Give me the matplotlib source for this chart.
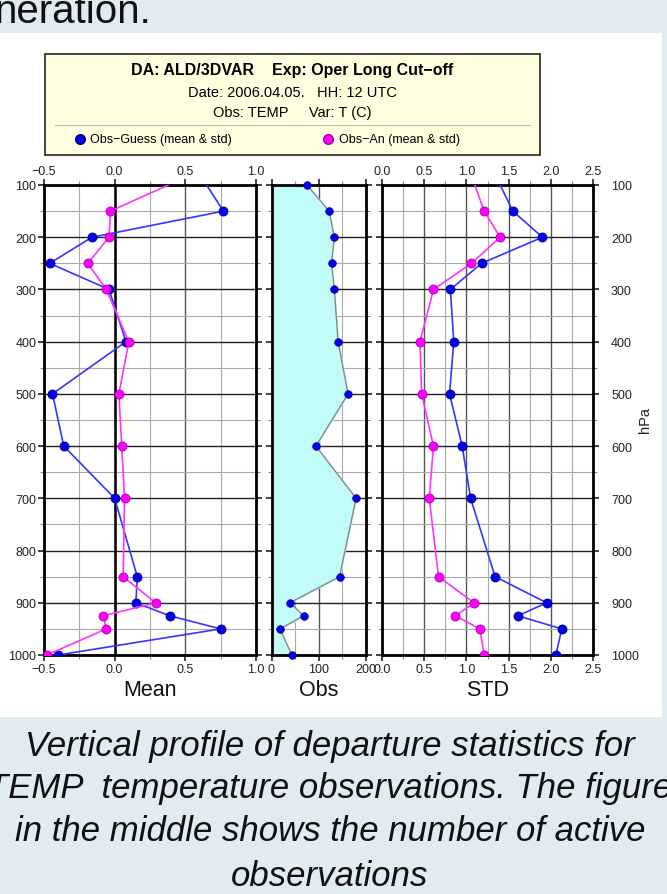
import matplotlib
matplotlib.use("Agg")
import matplotlib.pyplot as plt
from matplotlib.patches import Rectangle
from matplotlib.lines import Line2D
from matplotlib.ticker import MultipleLocator, FuncFormatter

plt.rcParams['font.family'] = ['Liberation Sans', 'DejaVu Sans']

# ---------------- data ----------------
levels = [100, 150, 200, 250, 300, 400, 500, 600, 700, 850, 900, 925, 950, 1000]
mean_guess = [0.65, 0.77, -0.16, -0.46, -0.04, 0.08, -0.44, -0.36, 0.00, 0.16, 0.15, 0.39, 0.75, -0.40]
mean_an = [0.38, -0.03, -0.04, -0.19, -0.06, 0.10, 0.03, 0.05, 0.07, 0.06, 0.29, -0.08, -0.06, -0.48]
std_guess = [1.40, 1.55, 1.90, 1.18, 0.81, 0.85, 0.80, 0.95, 1.05, 1.34, 1.95, 1.61, 2.13, 2.06]
std_an = [1.10, 1.21, 1.40, 1.06, 0.61, 0.45, 0.47, 0.61, 0.56, 0.67, 1.09, 0.87, 1.16, 1.21]
obs_count = [75, 122, 133, 127, 133, 141, 162, 94, 179, 144, 39, 68, 18, 43]

title1 = "DA: ALD/3DVAR    Exp: Oper Long Cut\u2212off"
title2 = "Date: 2006.04.05.   HH: 12 UTC"
title3 = "Obs: TEMP     Var: T (C)"
legend_guess = "Obs\u2212Guess (mean & std)"
legend_an = "Obs\u2212An (mean & std)"
caption = ["Vertical profile of departure statistics for",
           "TEMP  temperature observations. The figure",
           "in the middle shows the number of active",
           "observations"]

W, H = 667, 895
fig = plt.figure(figsize=(W / 100, H / 100), dpi=100)
fig.patch.set_facecolor('#e1ecf2')

def fx(px):
    return px / W

def fy(py):
    return 1 - py / H

# white slide panel
fig.add_artist(Rectangle((0, fy(718)), fx(662), (718 - 34) / H, transform=fig.transFigure,
                         facecolor='white', edgecolor='none', zorder=0))

# top cropped text (continuation of the slide text above)
fig.text(fx(-6), fy(23), "neration.", ha='left', va='baseline', fontsize=29, color='#111111')

# header/legend box
fig.add_artist(Rectangle((fx(45), fy(156)), fx(540 - 45), (156 - 55) / H, transform=fig.transFigure,
                         facecolor='#ffffe0', edgecolor='#222222', linewidth=1.2, zorder=1))
cx = fx(292)
fig.text(cx, fy(71), title1, ha='center', va='center', fontsize=11.5, fontweight='bold', zorder=2)
fig.text(cx, fy(93), title2, ha='center', va='center', fontsize=10.5, zorder=2)
fig.text(cx, fy(113), title3, ha='center', va='center', fontsize=10.5, zorder=2)
fig.add_artist(Line2D([fx(55), fx(530)], [fy(126), fy(126)], transform=fig.transFigure,
                      color='#bbbbbb', linewidth=0.8, zorder=2))
fig.add_artist(Line2D([fx(80)], [fy(140)], transform=fig.transFigure, marker='o', markersize=7,
                      color='#0000ee', markeredgecolor='#000088', linestyle='none', zorder=2))
fig.text(fx(90), fy(140), legend_guess, ha='left', va='center', fontsize=9, zorder=2)
fig.add_artist(Line2D([fx(328)], [fy(140)], transform=fig.transFigure, marker='o', markersize=7,
                      color='#ff00ff', markeredgecolor='#aa00aa', linestyle='none', zorder=2))
fig.text(fx(339), fy(140), legend_an, ha='left', va='center', fontsize=9, zorder=2)

top, bot = 186, 656

def make_ax(x0, x1):
    return fig.add_axes([fx(x0), fy(bot), fx(x1 - x0), (bot - top) / H])

ax1 = make_ax(44, 256)
ax2 = make_ax(271.5, 366)
ax3 = make_ax(382, 593)

def style(ax, xmaj, xmin, xlim, left_labels, right_labels, top_labels=True):
    ax.set_ylim(1000, 100)
    ax.set_xlim(*xlim)
    ax.xaxis.set_major_locator(MultipleLocator(xmaj))
    ax.xaxis.set_minor_locator(MultipleLocator(xmin))
    ax.yaxis.set_major_locator(MultipleLocator(100))
    ax.yaxis.set_minor_locator(MultipleLocator(50))
    ax.grid(which='major', axis='y', color='#222222', linewidth=1.0)
    ax.grid(which='minor', axis='y', color='#aaaaaa', linewidth=0.8)
    ax.grid(which='major', axis='x', color='#555555', linewidth=1.0)
    ax.grid(which='minor', axis='x', color='#aaaaaa', linewidth=0.8)
    ax.set_axisbelow(True)
    for s in ax.spines.values():
        s.set_linewidth(2.0)
        s.set_color('black')
    ax.tick_params(which='major', direction='out', length=4, width=1.2,
                   top=True, bottom=True, left=True, right=True,
                   labeltop=top_labels, labelbottom=True,
                   labelleft=left_labels, labelright=right_labels,
                   labelsize=9, pad=1.5, colors='#222222')
    ax.tick_params(which='minor', direction='out', length=3, width=0.8,
                   top=True, bottom=True, left=True, right=True, colors='#888888')
    ax.set_facecolor('white')

style(ax1, 0.5, 0.25, (-0.5, 1.0), True, False)
style(ax2, 100, 50, (0, 200), False, False, top_labels=False)
style(ax3, 0.5, 0.25, (0, 2.5), False, True)
ax3.tick_params(axis='y', which='major', pad=9)

ax1.xaxis.set_major_formatter(FuncFormatter(lambda v, p: f"{v:.1f}".replace('-', '\u2212')))
ax3.xaxis.set_major_formatter(FuncFormatter(lambda v, p: f"{v:.1f}"))
ax1.axvline(0, color='black', linewidth=1.8, zorder=1.5)

blue_line = '#3535ff'
mag_line = '#ff33ff'
mk = dict(marker='o', markersize=6.5, markevery=list(range(1, len(levels))))

ax1.plot(mean_guess, levels, color=blue_line, lw=1.2, markerfacecolor='#0000ee',
         markeredgecolor='#000088', markeredgewidth=0.6, zorder=3, **mk)
ax1.plot(mean_an, levels, color=mag_line, lw=1.2, markerfacecolor='#ff00ff',
         markeredgecolor='#aa00aa', markeredgewidth=0.6, zorder=4, **mk)

ax3.plot(std_guess, levels, color=blue_line, lw=1.2, markerfacecolor='#0000ee',
         markeredgecolor='#000088', markeredgewidth=0.6, zorder=3, **mk)
ax3.plot(std_an, levels, color=mag_line, lw=1.2, markerfacecolor='#ff00ff',
         markeredgecolor='#aa00aa', markeredgewidth=0.6, zorder=4, **mk)

ax2.fill_betweenx(levels, 0, obs_count, color='#c2fcf8', zorder=1.2)
ax2.plot(obs_count, levels, color='#888888', lw=1.0, zorder=3)
ax2.plot(obs_count, levels, linestyle='none', marker='o', markersize=5.5,
         markerfacecolor='#0000ee', markeredgecolor='#000088', markeredgewidth=0.5,
         zorder=4, clip_on=False)

for ax, lab in [(ax1, "Mean"), (ax2, "Obs"), (ax3, "STD")]:
    ax.set_xlabel(lab, fontsize=15.5, labelpad=3, color='#111111')

fig.text(fx(645), fy(420), "hPa", rotation=90, ha='center', va='center', fontsize=10.5, color='#222222')

# caption
cap_y = [747, 789, 832, 877]
for line, yy in zip(caption, cap_y):
    fig.text(fx(330), fy(yy), line, ha='center', va='center', fontsize=25, style='italic',
             color='#111111')

fig.savefig("out.png", dpi=100, facecolor=fig.get_facecolor())
